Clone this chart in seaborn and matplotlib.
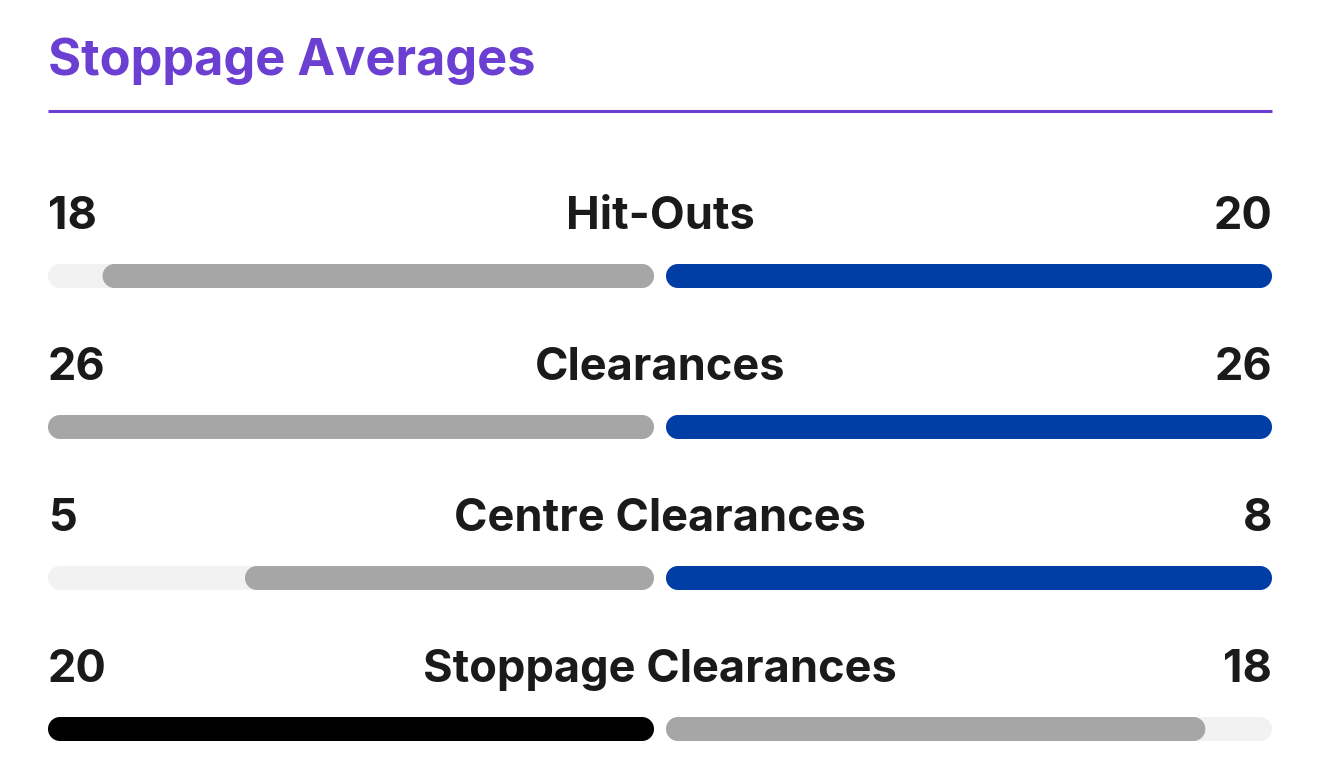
import numpy as np
import pandas as pd
import seaborn as sns
import matplotlib.pyplot as plt
from matplotlib.patches import Polygon, Rectangle

# ----------------------------
# DATA
# ----------------------------

title = "Stoppage Averages"
categories = ["Hit-Outs", "Clearances", "Centre Clearances", "Stoppage Clearances"]
left_avg = [18.2, 26.0, 5.4, 20.0]
right_avg = [20.0, 26.0, 8.0, 17.8]

# ----------------------------
# STYLE / LAYOUT
# ----------------------------

sns.set_theme(style="white")
plt.rcParams["font.family"] = ["Inter", "DejaVu Sans"]

W, H = 1320, 762
X0, X1, GAP = 48, 1272, 12          # track extents in px
ROW0, STEP, BAR_H = 276, 151, 24    # bar centre of first row, row pitch, bar height
TEXT_OFF = 47                       # baseline of row text above bar centre

PURPLE = "#6a3fd1"
TEXT = "#1a1a1a"
TRACK = "#f2f2f2"
GREY = "#a6a6a6"
BLUE = "#003da5"
BLACK = "#000000"

df = pd.DataFrame({"stat": categories, "left": left_avg, "right": right_avg})
top = df[["left", "right"]].max(axis=1)
df["left_frac"] = df["left"] / top
df["right_frac"] = df["right"] / top
df["full"] = 1.0
left_colors = [BLACK if l > r else GREY for l, r in zip(df["left"], df["right"])]
right_colors = [BLUE if r >= l else GREY for l, r in zip(df["left"], df["right"])]

fig = plt.figure(figsize=(W / 100, H / 100), dpi=100)
fig.patch.set_facecolor("white")

half = (X1 - X0 - GAP) / 2
top_px = 200
ymin = (top_px - ROW0) / STEP
ymax = (H - ROW0) / STEP
bar_w = BAR_H / STEP


def pill_bars(ax, px_x, px_y, z):
    # turn seaborn's rectangles into pill shapes with true semicircular ends
    t = np.linspace(-np.pi / 2, np.pi / 2, 40)
    for p in [p for p in ax.patches if isinstance(p, Rectangle)]:
        x, y, w, h = p.get_x(), p.get_y(), p.get_width(), p.get_height()
        ry = h / 2
        rx = min(ry * px_y / px_x, w / 2)
        cy = y + ry
        right = np.c_[x + w - rx + rx * np.cos(t), cy + ry * np.sin(t)]
        left = np.c_[x + rx - rx * np.cos(t), cy - ry * np.sin(t)]
        poly = Polygon(np.vstack([right, left]), closed=True,
                       fc=p.get_facecolor(), ec="none", lw=0, zorder=z)
        p.remove()
        ax.add_patch(poly)


def half_axes(left_px, frac_col, colors, invert):
    ax = fig.add_axes([left_px / W, 0, half / W, (H - top_px) / H])
    sns.barplot(data=df, x="full", y="stat", orient="h", color=TRACK,
                saturation=1, width=bar_w, errorbar=None, ax=ax)
    pill_bars(ax, half, STEP, 1)
    sns.barplot(data=df, x=frac_col, y="stat", hue="stat", palette=colors,
                saturation=1, orient="h", width=bar_w, errorbar=None,
                legend=False, ax=ax)
    pill_bars(ax, half, STEP, 2)
    ax.set_xlim((1, 0) if invert else (0, 1))
    ax.set_ylim(ymax, ymin)
    ax.axis("off")
    return ax


half_axes(X0, "left_frac", left_colors, True)
half_axes(X0 + half + GAP, "right_frac", right_colors, False)

# text overlay in pixel units
ov = fig.add_axes([0, 0, 1, 1])
ov.set_xlim(0, W)
ov.set_ylim(H, 0)
ov.axis("off")
ov.patch.set_alpha(0)

ov.text(X0, 75, title, color=PURPLE, fontsize=36.4, fontweight="bold",
        ha="left", va="baseline")
ov.plot([X0, X1], [110.5, 110.5], color=PURPLE, lw=2.2, solid_capstyle="butt")

for i, row in df.iterrows():
    yb = ROW0 + STEP * i - TEXT_OFF
    kw = dict(color=TEXT, fontsize=32.5, fontweight="bold", va="baseline")
    ov.text(X0, yb, f"{row['left']:.0f}", ha="left", **kw)
    ov.text(W / 2, yb, row["stat"], ha="center", **kw)
    ov.text(X1, yb, f"{row['right']:.0f}", ha="right", **kw)

fig.savefig("out.png", dpi=100, facecolor="white")
